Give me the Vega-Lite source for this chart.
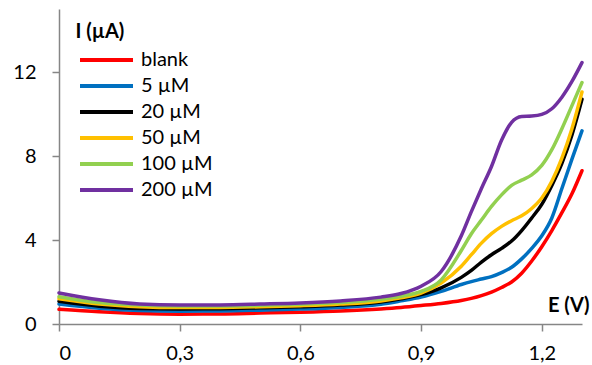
{
  "$schema": "https://vega.github.io/schema/vega-lite/v6.json",
  "width": 523,
  "height": 315,
  "autosize": {"type": "none"},
  "padding": {"left": 59, "top": 9, "right": 10, "bottom": 41},
  "background": "white",
  "config": {
    "view": {"stroke": null},
    "font": "Lato",
    "axis": {"grid": false, "domainColor": "#868686", "domainWidth": 1.5, "tickColor": "#868686", "tickWidth": 1.5, "tickSize": 7, "labelFont": "Lato", "labelFontSize": 20, "labelColor": "#000000", "labelPadding": 10, "titleFont": "Lato", "titleFontSize": 20, "titleFontWeight": "bold", "titleColor": "#000000"}
  },
  "data": {
    "values": [
      {"s": "blank", "E": 0, "I": 0.70}, {"s": "blank", "E": 0.1, "I": 0.58}, {"s": "blank", "E": 0.2, "I": 0.50}, {"s": "blank", "E": 0.3, "I": 0.47}, {"s": "blank", "E": 0.4, "I": 0.48}, {"s": "blank", "E": 0.5, "I": 0.52}, {"s": "blank", "E": 0.6, "I": 0.56}, {"s": "blank", "E": 0.7, "I": 0.62}, {"s": "blank", "E": 0.8, "I": 0.72}, {"s": "blank", "E": 0.85, "I": 0.79}, {"s": "blank", "E": 0.9, "I": 0.88}, {"s": "blank", "E": 0.95, "I": 0.98}, {"s": "blank", "E": 1.0, "I": 1.12}, {"s": "blank", "E": 1.025, "I": 1.22}, {"s": "blank", "E": 1.05, "I": 1.35}, {"s": "blank", "E": 1.075, "I": 1.52}, {"s": "blank", "E": 1.1, "I": 1.74}, {"s": "blank", "E": 1.125, "I": 2.0}, {"s": "blank", "E": 1.15, "I": 2.42}, {"s": "blank", "E": 1.175, "I": 3.0}, {"s": "blank", "E": 1.2, "I": 3.68}, {"s": "blank", "E": 1.225, "I": 4.45}, {"s": "blank", "E": 1.25, "I": 5.3}, {"s": "blank", "E": 1.275, "I": 6.2}, {"s": "blank", "E": 1.3, "I": 7.3},
      {"s": "5 µM", "E": 0, "I": 0.95}, {"s": "5 µM", "E": 0.1, "I": 0.75}, {"s": "5 µM", "E": 0.2, "I": 0.64}, {"s": "5 µM", "E": 0.3, "I": 0.61}, {"s": "5 µM", "E": 0.4, "I": 0.62}, {"s": "5 µM", "E": 0.5, "I": 0.66}, {"s": "5 µM", "E": 0.6, "I": 0.71}, {"s": "5 µM", "E": 0.7, "I": 0.79}, {"s": "5 µM", "E": 0.8, "I": 0.94}, {"s": "5 µM", "E": 0.85, "I": 1.1}, {"s": "5 µM", "E": 0.9, "I": 1.28}, {"s": "5 µM", "E": 0.95, "I": 1.55}, {"s": "5 µM", "E": 1.0, "I": 1.88}, {"s": "5 µM", "E": 1.025, "I": 2.02}, {"s": "5 µM", "E": 1.05, "I": 2.14}, {"s": "5 µM", "E": 1.075, "I": 2.26}, {"s": "5 µM", "E": 1.1, "I": 2.45}, {"s": "5 µM", "E": 1.125, "I": 2.7}, {"s": "5 µM", "E": 1.15, "I": 3.1}, {"s": "5 µM", "E": 1.175, "I": 3.6}, {"s": "5 µM", "E": 1.2, "I": 4.2}, {"s": "5 µM", "E": 1.225, "I": 5.05}, {"s": "5 µM", "E": 1.25, "I": 6.45}, {"s": "5 µM", "E": 1.275, "I": 7.85}, {"s": "5 µM", "E": 1.3, "I": 9.2},
      {"s": "20 µM", "E": 0, "I": 1.08}, {"s": "20 µM", "E": 0.1, "I": 0.85}, {"s": "20 µM", "E": 0.2, "I": 0.74}, {"s": "20 µM", "E": 0.3, "I": 0.72}, {"s": "20 µM", "E": 0.4, "I": 0.73}, {"s": "20 µM", "E": 0.5, "I": 0.77}, {"s": "20 µM", "E": 0.6, "I": 0.82}, {"s": "20 µM", "E": 0.7, "I": 0.9}, {"s": "20 µM", "E": 0.8, "I": 1.05}, {"s": "20 µM", "E": 0.85, "I": 1.2}, {"s": "20 µM", "E": 0.9, "I": 1.4}, {"s": "20 µM", "E": 0.95, "I": 1.72}, {"s": "20 µM", "E": 1.0, "I": 2.22}, {"s": "20 µM", "E": 1.025, "I": 2.55}, {"s": "20 µM", "E": 1.05, "I": 2.95}, {"s": "20 µM", "E": 1.075, "I": 3.3}, {"s": "20 µM", "E": 1.1, "I": 3.6}, {"s": "20 µM", "E": 1.125, "I": 3.95}, {"s": "20 µM", "E": 1.15, "I": 4.45}, {"s": "20 µM", "E": 1.175, "I": 5.05}, {"s": "20 µM", "E": 1.2, "I": 5.7}, {"s": "20 µM", "E": 1.225, "I": 6.6}, {"s": "20 µM", "E": 1.25, "I": 7.65}, {"s": "20 µM", "E": 1.275, "I": 9.0}, {"s": "20 µM", "E": 1.3, "I": 10.7},
      {"s": "50 µM", "E": 0, "I": 1.2}, {"s": "50 µM", "E": 0.1, "I": 0.95}, {"s": "50 µM", "E": 0.2, "I": 0.82}, {"s": "50 µM", "E": 0.3, "I": 0.78}, {"s": "50 µM", "E": 0.4, "I": 0.79}, {"s": "50 µM", "E": 0.5, "I": 0.82}, {"s": "50 µM", "E": 0.6, "I": 0.87}, {"s": "50 µM", "E": 0.7, "I": 0.95}, {"s": "50 µM", "E": 0.8, "I": 1.1}, {"s": "50 µM", "E": 0.85, "I": 1.25}, {"s": "50 µM", "E": 0.9, "I": 1.47}, {"s": "50 µM", "E": 0.95, "I": 1.95}, {"s": "50 µM", "E": 1.0, "I": 2.75}, {"s": "50 µM", "E": 1.025, "I": 3.3}, {"s": "50 µM", "E": 1.05, "I": 3.85}, {"s": "50 µM", "E": 1.075, "I": 4.3}, {"s": "50 µM", "E": 1.1, "I": 4.65}, {"s": "50 µM", "E": 1.125, "I": 4.92}, {"s": "50 µM", "E": 1.15, "I": 5.15}, {"s": "50 µM", "E": 1.175, "I": 5.5}, {"s": "50 µM", "E": 1.2, "I": 6.0}, {"s": "50 µM", "E": 1.225, "I": 6.8}, {"s": "50 µM", "E": 1.25, "I": 7.9}, {"s": "50 µM", "E": 1.275, "I": 9.3}, {"s": "50 µM", "E": 1.3, "I": 11.05},
      {"s": "100 µM", "E": 0, "I": 1.3}, {"s": "100 µM", "E": 0.1, "I": 1.02}, {"s": "100 µM", "E": 0.2, "I": 0.9}, {"s": "100 µM", "E": 0.3, "I": 0.86}, {"s": "100 µM", "E": 0.4, "I": 0.86}, {"s": "100 µM", "E": 0.5, "I": 0.89}, {"s": "100 µM", "E": 0.6, "I": 0.94}, {"s": "100 µM", "E": 0.7, "I": 1.02}, {"s": "100 µM", "E": 0.8, "I": 1.18}, {"s": "100 µM", "E": 0.85, "I": 1.32}, {"s": "100 µM", "E": 0.9, "I": 1.55}, {"s": "100 µM", "E": 0.95, "I": 2.1}, {"s": "100 µM", "E": 1.0, "I": 3.5}, {"s": "100 µM", "E": 1.025, "I": 4.3}, {"s": "100 µM", "E": 1.05, "I": 4.95}, {"s": "100 µM", "E": 1.075, "I": 5.6}, {"s": "100 µM", "E": 1.1, "I": 6.15}, {"s": "100 µM", "E": 1.125, "I": 6.6}, {"s": "100 µM", "E": 1.15, "I": 6.85}, {"s": "100 µM", "E": 1.175, "I": 7.1}, {"s": "100 µM", "E": 1.2, "I": 7.55}, {"s": "100 µM", "E": 1.225, "I": 8.3}, {"s": "100 µM", "E": 1.25, "I": 9.3}, {"s": "100 µM", "E": 1.275, "I": 10.4}, {"s": "100 µM", "E": 1.3, "I": 11.5},
      {"s": "200 µM", "E": 0, "I": 1.48}, {"s": "200 µM", "E": 0.1, "I": 1.15}, {"s": "200 µM", "E": 0.2, "I": 0.95}, {"s": "200 µM", "E": 0.3, "I": 0.9}, {"s": "200 µM", "E": 0.4, "I": 0.91}, {"s": "200 µM", "E": 0.5, "I": 0.95}, {"s": "200 µM", "E": 0.6, "I": 1.0}, {"s": "200 µM", "E": 0.7, "I": 1.1}, {"s": "200 µM", "E": 0.8, "I": 1.28}, {"s": "200 µM", "E": 0.85, "I": 1.45}, {"s": "200 µM", "E": 0.9, "I": 1.8}, {"s": "200 µM", "E": 0.95, "I": 2.5}, {"s": "200 µM", "E": 1.0, "I": 4.2}, {"s": "200 µM", "E": 1.025, "I": 5.35}, {"s": "200 µM", "E": 1.05, "I": 6.45}, {"s": "200 µM", "E": 1.075, "I": 7.5}, {"s": "200 µM", "E": 1.1, "I": 8.75}, {"s": "200 µM", "E": 1.125, "I": 9.6}, {"s": "200 µM", "E": 1.15, "I": 9.88}, {"s": "200 µM", "E": 1.175, "I": 9.9}, {"s": "200 µM", "E": 1.2, "I": 9.98}, {"s": "200 µM", "E": 1.225, "I": 10.25}, {"s": "200 µM", "E": 1.25, "I": 10.8}, {"s": "200 µM", "E": 1.275, "I": 11.55}, {"s": "200 µM", "E": 1.3, "I": 12.45}
    ]
  },
  "mark": {"type": "line", "interpolate": "monotone", "strokeWidth": 3.5, "strokeCap": "round", "clip": false},
  "encoding": {
    "x": {
      "field": "E", "type": "quantitative",
      "scale": {"domain": [0, 1.3], "nice": false, "zero": false},
      "axis": {"values": [0, 0.3, 0.6, 0.9, 1.2], "labelExpr": "datum.value == 0 ? '0' : replace(format(datum.value, '.1f'), '.', ',')", "labelPadding": 12, "title": "E (V)", "titleAnchor": "start", "titleAlign": "right", "titleBaseline": "middle", "titleX": 530, "titleY": -19}
    },
    "y": {
      "field": "I", "type": "quantitative",
      "scale": {"domain": [0, 15], "nice": false},
      "axis": {"values": [0, 4, 8, 12], "labelPadding": 16, "title": "I (µA)", "titleAngle": 0, "titleAlign": "left", "titleBaseline": "middle", "titleX": 16, "titleY": 22}
    },
    "color": {
      "field": "s", "type": "nominal",
      "scale": {"domain": ["blank", "5 µM", "20 µM", "50 µM", "100 µM", "200 µM"], "range": ["#FF0000", "#0070C0", "#000000", "#FFC000", "#92D050", "#7030A0"]},
      "legend": {"orient": "none", "legendX": 35.5, "legendY": 39, "title": null, "symbolType": "M-2.65,0H2.65", "symbolSize": 400, "symbolStrokeWidth": 4, "symbolFillColor": "transparent", "labelFont": "Lato", "labelFontSize": 20, "labelColor": "#000000", "labelOffset": 22.5, "rowPadding": 4, "padding": 0}
    }
  }
}
